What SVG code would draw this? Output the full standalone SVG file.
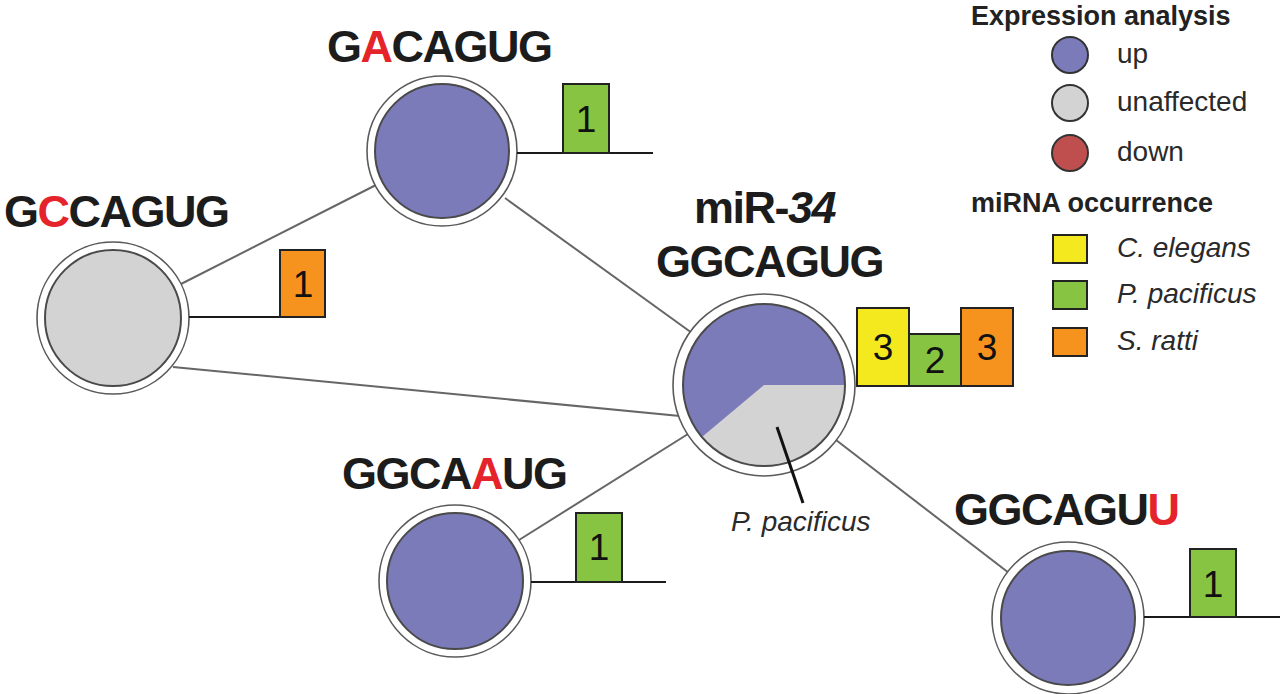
<svg xmlns="http://www.w3.org/2000/svg" width="1280" height="694" viewBox="0 0 1280 694">
<style>
.bg{fill:#ffffff}
.conn{stroke:#666666;stroke-width:2;fill:none}
.base{stroke:#1a1a1a;stroke-width:2;fill:none}
.outer{fill:#ffffff;stroke:#5a5a5a;stroke-width:1.6}
.inner{stroke:#4a4a4a;stroke-width:2}
.up{fill:#7b7bb9}
.un{fill:#d3d3d3}
.dn{fill:#bf4f4f}
.ye{fill:#f3e91e}
.gr{fill:#86c441}
.or{fill:#f6921e}
.box{stroke:#222222;stroke-width:2}
.seq{font-family:"Liberation Sans",Arial,sans-serif;font-weight:bold;font-size:45px;letter-spacing:-1.5px;fill:#1c1c1c}
.red{fill:#e5232b}
.num{font-family:"Liberation Sans",Arial,sans-serif;font-size:37px;fill:#111111;text-anchor:middle}
.lh{font-family:"Liberation Sans",Arial,sans-serif;font-weight:bold;font-size:27px;fill:#222222}
.lt{font-family:"Liberation Sans",Arial,sans-serif;font-size:28px;fill:#2a2a2a}
.it{font-style:italic}
</style>
<rect class="bg" x="0" y="0" width="1280" height="694"/>

<g id="connectors">
  <line class="conn" x1="181" y1="284" x2="376" y2="185"/>
  <line class="conn" x1="173" y1="367" x2="680" y2="416"/>
  <line class="conn" x1="505" y1="198" x2="692" y2="333"/>
  <line class="conn" x1="519" y1="540" x2="688" y2="434"/>
  <line class="conn" x1="836" y1="440" x2="1009" y2="573"/>
</g>

<g id="node-GACAGUG">
  <text class="seq" x="327" y="62">G<tspan class="red">A</tspan>CAGUG</text>
  <circle class="outer" cx="442" cy="151" r="75"/>
  <circle class="inner up" cx="442" cy="151" r="67"/>
  <line class="base" x1="517" y1="153" x2="653" y2="153"/>
  <rect class="box gr" x="563" y="84" width="46" height="69"/>
  <text class="num" x="586" y="132">1</text>
</g>

<g id="node-GCCAGUG">
  <text class="seq" x="4" y="227">G<tspan class="red">C</tspan>CAGUG</text>
  <circle class="outer" cx="113" cy="318" r="76"/>
  <circle class="inner un" cx="113" cy="318" r="68"/>
  <line class="base" x1="189" y1="317" x2="281" y2="317"/>
  <rect class="box or" x="280" y="250" width="45" height="67"/>
  <text class="num" x="303" y="297">1</text>
</g>

<g id="node-miR-34">
  <text class="seq" x="694" y="223">miR-<tspan font-style="italic">34</tspan></text>
  <text class="seq" x="656" y="277">GGCAGUG</text>
  <circle class="outer" cx="764" cy="385" r="91"/>
  <circle class="up" cx="764" cy="385" r="81"/>
  <path class="un" d="M764,385 L845,385 A81,81 0 0 1 701.95,437.07 Z"/>
  <circle cx="764" cy="385" r="81" fill="none" stroke="#4a4a4a" stroke-width="2"/>
  <rect class="box ye" x="857" y="308" width="52" height="78"/>
  <rect class="box gr" x="909" y="334" width="52" height="52"/>
  <rect class="box or" x="961" y="308" width="52" height="78"/>
  <text class="num" x="883" y="360">3</text>
  <text class="num" x="935" y="373">2</text>
  <text class="num" x="987" y="360">3</text>
  <line x1="777" y1="427" x2="803" y2="503" stroke="#111111" stroke-width="3"/>
  <text class="lt it" x="731" y="531">P. pacificus</text>
</g>

<g id="node-GGCAAUG">
  <text class="seq" x="342" y="489">GGCA<tspan class="red">A</tspan>UG</text>
  <circle class="outer" cx="455" cy="581" r="76"/>
  <circle class="inner up" cx="455" cy="581" r="68"/>
  <line class="base" x1="531" y1="582" x2="666" y2="582"/>
  <rect class="box gr" x="576" y="513" width="46" height="69"/>
  <text class="num" x="599" y="560">1</text>
</g>

<g id="node-GGCAGUU">
  <text class="seq" x="954" y="525">GGCAGU<tspan class="red">U</tspan></text>
  <circle class="outer" cx="1068" cy="618" r="76"/>
  <circle class="inner up" cx="1068" cy="618" r="67"/>
  <line class="base" x1="1144" y1="617" x2="1280" y2="617"/>
  <rect class="box gr" x="1190" y="549" width="46" height="68"/>
  <text class="num" x="1213" y="597">1</text>
</g>

<g id="legend">
  <text class="lh" x="971" y="25">Expression analysis</text>
  <circle class="up" cx="1070" cy="55" r="18" stroke="#333333" stroke-width="2"/>
  <text class="lt" x="1117" y="63">up</text>
  <circle class="un" cx="1070" cy="103" r="18" stroke="#333333" stroke-width="2"/>
  <text class="lt" x="1117" y="111">unaffected</text>
  <circle class="dn" cx="1070" cy="153" r="18" stroke="#333333" stroke-width="2"/>
  <text class="lt" x="1117" y="161">down</text>
  <text class="lh" x="971" y="212">miRNA occurrence</text>
  <rect class="box ye" x="1053" y="235" width="34" height="28"/>
  <text class="lt it" x="1117" y="257">C. elegans</text>
  <rect class="box gr" x="1053" y="281" width="34" height="28"/>
  <text class="lt it" x="1117" y="303">P. pacificus</text>
  <rect class="box or" x="1053" y="328" width="34" height="28"/>
  <text class="lt it" x="1117" y="350">S. ratti</text>
</g>
</svg>
